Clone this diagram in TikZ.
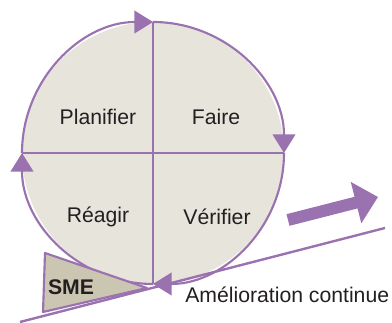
\documentclass[tikz,border=0pt]{standalone}
\usepackage{fontspec}
\setmainfont{Liberation Sans}
\usepackage{xcolor}
\usetikzlibrary{%
	arrows.meta,%
	calc%
}
\definecolor{pdcaviolet}{HTML}{9B72B0}
\definecolor{pdcafond}{HTML}{E7E4DC}
\definecolor{smefond}{HTML}{CBC6B2}
\definecolor{texte}{HTML}{231F20}

\begin{document}
\begin{tikzpicture}[x=0.75pt,y=0.75pt,>={Triangle[length=14pt,width=17pt]},
		trait/.style={draw=pdcaviolet,line width=1.6pt},
		etiquette/.style={text=texte,font=\fontsize{15.9}{18}\selectfont}]
		\useasboundingbox (0,0) rectangle (392,323);
		\coordinate (c) at (153,170);
		% roue de Deming
		\fill [pdcafond] (c) circle [radius=131];
		\draw [trait] (c) ++(-131,0) -- ++(262,0);
		\draw [trait] (c) ++(0,-131) -- ++(0,262);
		\foreach \a in {180,90,0,-90}{
			\draw [trait,->,pdcaviolet] (c) ++(\a:131) arc [start angle=\a, end angle=\a-90, radius=131];
		}
		% pente
		\coordinate (bas) at (20,1);
		\coordinate (haut) at (385,95);
		\draw [draw=pdcaviolet,line width=1.8pt] (bas) -- (haut);
		\draw [trait,fill=smefond,line join=round] (45,70) -- (43,11) -- (147,35) -- cycle;
		\draw [draw=pdcaviolet,line width=9pt,-{Triangle[length=17pt,width=31pt]}] (288,103) -- (378,126);
		% textes
		\node [etiquette] (planifier) at (98,206) {Planifier};
		\node [etiquette] (faire) at (216,206) {Faire};
		\node [etiquette] (reagir) at (98,106) {Réagir};
		\node [etiquette] (verifier) at (217,106) {Vérifier};
		\node [etiquette,font=\fontsize{15.9}{18}\selectfont\bfseries] (sme) at (71,36) {SME};
		\node [etiquette,anchor=west,inner sep=0pt] (amelioration) at (185,28) {Amélioration continue};
	\end{tikzpicture}
\end{document}
